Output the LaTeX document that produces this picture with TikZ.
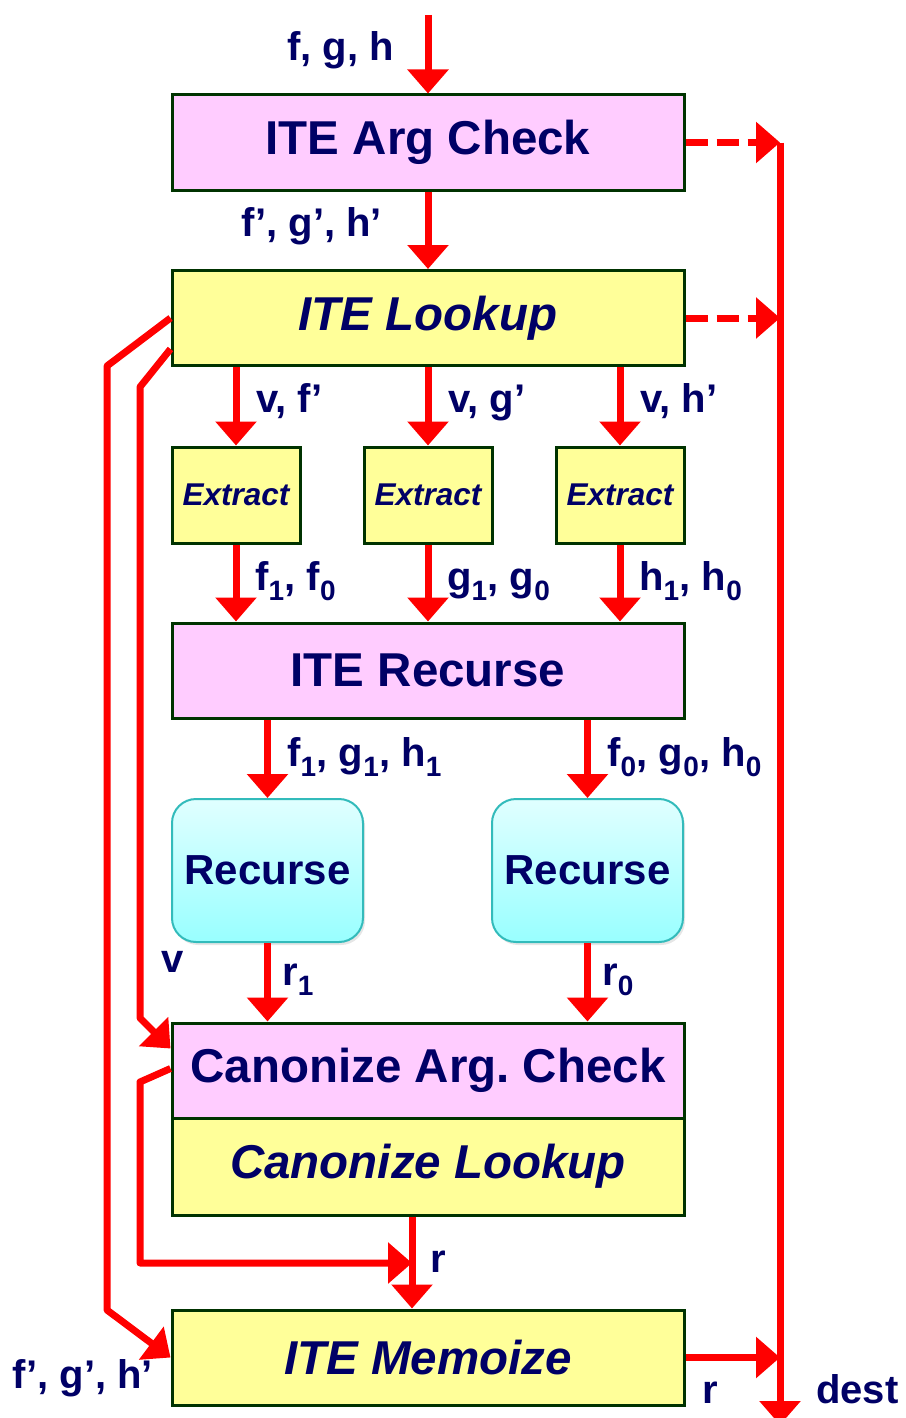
\documentclass[tikz,border=0pt]{standalone}
\usepackage{fontspec}
\setmainfont{Liberation Sans}
\usetikzlibrary{arrows.meta, positioning, calc, shadows}
\definecolor{navy}{HTML}{000066}
\definecolor{boxline}{HTML}{003300}
\definecolor{pinkfill}{HTML}{FFCCFF}
\definecolor{yellowfill}{HTML}{FFFF99}
\definecolor{cyantop}{HTML}{E0FFFF}
\definecolor{cyanbot}{HTML}{99FFFF}
\definecolor{cyanline}{HTML}{33BBBB}
\tikzstyle{stage} = [rectangle, draw=boxline, line width=3pt, minimum width=512pt, minimum height=95pt, text=navy, font=\fontsize{47.5}{55}\selectfont\bfseries]
\tikzstyle{checkbox} = [stage, fill=pinkfill]
\tikzstyle{lookbox} = [stage, fill=yellowfill, font=\fontsize{47.5}{55}\selectfont\bfseries\itshape]
\tikzstyle{extractbox} = [rectangle, draw=boxline, line width=3pt, fill=yellowfill, minimum width=128pt, minimum height=96pt, inner sep=0pt, text=navy, font=\fontsize{31.5}{36}\selectfont\bfseries\itshape]
\tikzstyle{recbox} = [rectangle, rounded corners=24pt, draw=cyanline, line width=2pt, top color=cyantop, bottom color=cyanbot, minimum width=191pt, minimum height=143pt, text=navy, font=\fontsize{42}{48}\selectfont\bfseries, drop shadow={opacity=0.2, shadow xshift=2pt, shadow yshift=-3pt}]
\tikzstyle{lbl} = [text=navy, font=\fontsize{40}{46}\selectfont\bfseries, inner sep=0pt, anchor=base west]
\tikzstyle{arrow} = [red, line width=7pt, line join=round, -{Triangle[width=40pt,length=24pt]}]
\tikzstyle{dasharrow} = [arrow, dash pattern=on 22pt off 9pt]

\begin{document}
\begin{tikzpicture}[x=1pt, y=-1pt]
    \useasboundingbox (0,0) rectangle (905,1418);

    % Stage boxes
    \node (argcheck) [checkbox] at (428,142.5) {ITE Arg Check};
    \node (lookup) [lookbox] at (428,318) {ITE Lookup};
    \node (exf) [extractbox] at (236,495) {Extract};
    \node (exg) [extractbox] at (428,495) {Extract};
    \node (exh) [extractbox] at (620,495) {Extract};
    \node (recurse) [checkbox] at (428,670.5) {ITE Recurse};
    \node (rechi) [recbox] at (267.5,870.5) {Recurse};
    \node (reclo) [recbox] at (587.5,870.5) {Recurse};
    \node (canarg) [checkbox] at (428,1070.5) {Canonize Arg.\ Check};
    \node (canlook) [lookbox, minimum height=97pt] at (428,1166.5) {Canonize Lookup};
    \node (memo) [lookbox] at (428,1357.5) {ITE Memoize};

    % Free ends and bends
    \coordinate (input) at (428,15);
    \coordinate (destline) at (780,142.5);
    \coordinate (destend) at (780,1425);
    \coordinate (outerbend) at (107,366);
    \coordinate (outerdown) at (107,1310);
    \coordinate (innerbend) at (140,387);
    \coordinate (innerdown) at (140,1018);
    \coordinate (canbend) at (140,1082);
    \coordinate (candown) at (140,1263);
    \coordinate (rjoin) at (412,1263);

    % Main arrows
    \draw[arrow] (input) -- (argcheck.north);
    \draw[arrow] (argcheck.south) -- (lookup.north);
    \draw[arrow] (exf |- lookup.south) -- (exf.north);
    \draw[arrow] (exg |- lookup.south) -- (exg.north);
    \draw[arrow] (exh |- lookup.south) -- (exh.north);
    \draw[arrow] (exf.south) -- (exf |- recurse.north);
    \draw[arrow] (exg.south) -- (exg |- recurse.north);
    \draw[arrow] (exh.south) -- (exh |- recurse.north);
    \draw[arrow] (rechi |- recurse.south) -- (rechi.north);
    \draw[arrow] (reclo |- recurse.south) -- (reclo.north);
    \draw[arrow] (rechi.south) -- (rechi |- canarg.north);
    \draw[arrow] (reclo.south) -- (reclo |- canarg.north);
    \draw[arrow] (rjoin |- canlook.south) -- (rjoin |- memo.north);

    % Destination line
    \draw[dasharrow] (argcheck.east) -- (destline);
    \draw[dasharrow] (lookup.east) -- (destline |- lookup.east);
    \draw[arrow] (memo.east) -- (destline |- memo.east);
    \draw[arrow] (destline) -- (destend);

    % Bypass lines on the left
    \draw[arrow] (lookup.west) -- (outerbend) -- (outerdown) -- (memo.west);
    \draw[arrow] ($(lookup.south west)+(0,-18)$) -- (innerbend) -- (innerdown) -- ($(canarg.north west)+(0,27)$);
    \draw[arrow] ($(canarg.west)+(0,-2)$) -- (canbend) -- (candown) -- (rjoin);

    % Labels
    \node[lbl] at (287,61) {f, g, h};
    \node[lbl] at (241,236) {f', g', h'};
    \node[lbl] at (256,412) {v, f'};
    \node[lbl] at (448,412) {v, g'};
    \node[lbl] at (640,412) {v, h'};
    \node[lbl] at (255,590) {f\textsubscript{1}, f\textsubscript{0}};
    \node[lbl] at (447,590) {g\textsubscript{1}, g\textsubscript{0}};
    \node[lbl] at (639,590) {h\textsubscript{1}, h\textsubscript{0}};
    \node[lbl] at (287,766) {f\textsubscript{1}, g\textsubscript{1}, h\textsubscript{1}};
    \node[lbl] at (607,766) {f\textsubscript{0}, g\textsubscript{0}, h\textsubscript{0}};
    \node[lbl] at (161,972) {v};
    \node[lbl] at (282,985) {r\textsubscript{1}};
    \node[lbl] at (602,985) {r\textsubscript{0}};
    \node[lbl] at (430,1272) {r};
    \node[lbl] at (12,1388) {f', g', h'};
    \node[lbl] at (702,1403) {r};
    \node[lbl] at (816,1403) {dest};
\end{tikzpicture}
\end{document}
